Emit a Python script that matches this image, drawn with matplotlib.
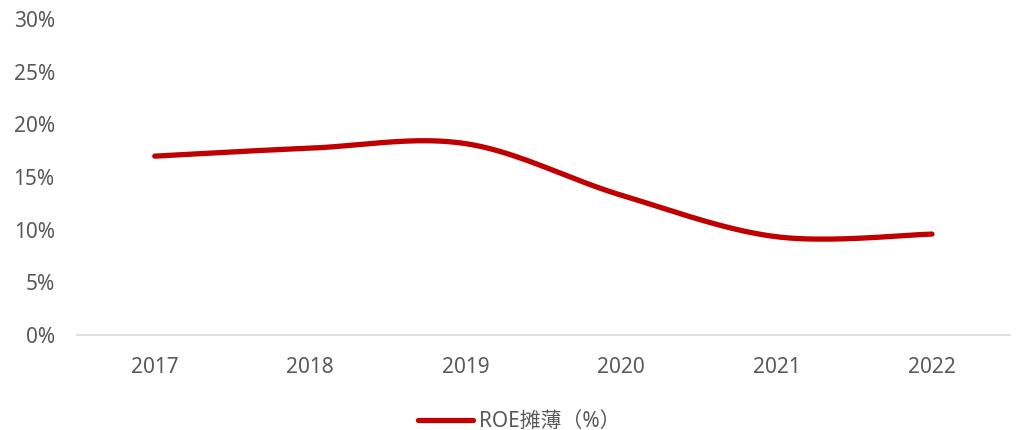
import numpy as np
from matplotlib import pyplot as plt

plt.rcParams['font.family'] = ['Noto Sans', 'Noto Sans CJK SC', 'DejaVu Sans']

years = ["2017", "2018", "2019", "2020", "2021", "2022"]
roe = [16.98, 17.74, 18.17, 13.28, 9.33, 9.58]
label = "ROE摊薄（%）"


def smooth(xs, ys, n=40):
    # Excel-style smoothed line: cubic Bezier segments, control points 1/6 of neighbour slope
    xs = np.asarray(xs, float)
    ys = np.asarray(ys, float)
    px = np.concatenate([[xs[0]], xs, [xs[-1]]])
    py = np.concatenate([[ys[0]], ys, [ys[-1]]])
    t = np.linspace(0, 1, n)
    out_x, out_y = [], []
    for i in range(1, len(px) - 2):
        p0 = np.array([px[i], py[i]])
        p3 = np.array([px[i + 1], py[i + 1]])
        c1 = p0 + (p3 - np.array([px[i - 1], py[i - 1]])) / 6
        c2 = p3 - (np.array([px[i + 2], py[i + 2]]) - p0) / 6
        b = ((1 - t) ** 3)[:, None] * p0 + (3 * (1 - t) ** 2 * t)[:, None] * c1 \
            + (3 * (1 - t) * t ** 2)[:, None] * c2 + (t ** 3)[:, None] * p3
        out_x.extend(b[:, 0])
        out_y.extend(b[:, 1])
    return out_x, out_y


fig = plt.figure(figsize=(10.16, 4.3), dpi=100)
ax = fig.add_axes([0.0758, 0.2209, 0.918, 0.7349])

x = np.arange(len(years))
sx, sy = smooth(x, roe)
ax.plot(sx, sy, color="#C00000", lw=3.8, solid_capstyle="round", label=label)

ax.set_xlim(-0.5, len(years) - 0.5)
ax.set_ylim(0, 30)
ax.set_xticks(x)
ax.set_xticklabels(years)
ax.set_yticks(range(0, 31, 5))
ax.set_yticklabels([f"{v}%" for v in range(0, 31, 5)])

for s in ["top", "right", "left"]:
    ax.spines[s].set_visible(False)
ax.spines["bottom"].set_color("#D9D9D9")
ax.spines["bottom"].set_linewidth(1.2)
ax.tick_params(axis="both", length=0, labelsize=15, labelcolor="#595959")
ax.tick_params(axis="x", pad=16)
ax.tick_params(axis="y", pad=16)

fig.legend(loc="center", bbox_to_anchor=(0.511, 0.02), frameon=False,
           prop={"size": 15}, labelcolor="#595959", handlelength=2.64,
           handletextpad=0.25)

fig.savefig("out.png", dpi=100)
